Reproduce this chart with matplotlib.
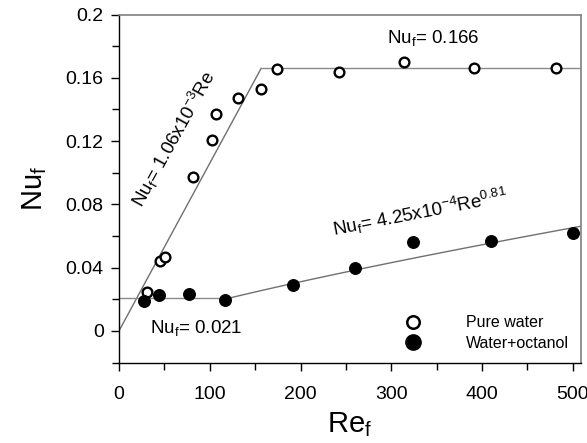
import numpy as np
import matplotlib
matplotlib.use("Agg")
import matplotlib.pyplot as plt
from matplotlib.ticker import MultipleLocator
from matplotlib.lines import Line2D

plt.rcParams['font.family'] = ['Liberation Sans', 'DejaVu Sans']
plt.rcParams['mathtext.default'] = 'regular'

# Measured film Nusselt numbers vs. film Reynolds number
re_water = [30.9, 45.2, 50.7, 81.6, 102.9, 106.9, 131.6, 156.2, 174.2, 242.9, 313.5, 391.0, 481.4]
nu_water = [0.0245, 0.0443, 0.0470, 0.0970, 0.1209, 0.1370, 0.1470, 0.1530, 0.1658, 0.1637, 0.1700, 0.1662, 0.1662]

re_octanol = [27.9, 44.1, 77.2, 117.2, 192.2, 260.5, 323.8, 410.1, 500.6]
nu_octanol = [0.0192, 0.0230, 0.0232, 0.0196, 0.0287, 0.0399, 0.0561, 0.0568, 0.0618]

# Correlation coefficients
water_slope = 1.06e-3
water_plateau = 0.166
oct_plateau = 0.021
oct_coef = 4.25e-4
oct_exp = 0.81

x_max = 509
y_min, y_max = -0.02, 0.2

fig = plt.figure(figsize=(5.87, 4.43), dpi=100)
ax = fig.add_axes([0.2027, 0.1817, 0.7871, 0.7853])

line_kw = dict(color='#707070', lw=1.0, zorder=1)

# Pure water: linear rise then plateau
re_break_w = water_plateau / water_slope
ax.plot([0, re_break_w], [0, water_slope * re_break_w], **line_kw)
ax.plot([re_break_w, x_max], [water_plateau, water_plateau], color='#8a8a8a', lw=1.0, zorder=1)

# Water + octanol: plateau then power law
re_break_o = (oct_plateau / oct_coef) ** (1 / oct_exp)
ax.plot([0, re_break_o], [oct_plateau, oct_plateau], color='#8a8a8a', lw=1.0, zorder=1)
re_pow = np.linspace(re_break_o, x_max, 100)
ax.plot(re_pow, oct_coef * re_pow ** oct_exp, **line_kw)

ax.plot(re_water, nu_water, 'o', ms=7, mfc='white', mec='black', mew=1.7, zorder=3, clip_on=False)
ax.plot(re_octanol, nu_octanol, 'o', ms=8.5, mfc='black', mec='black', mew=0.8, zorder=3, clip_on=False)

ax.set_xlim(0, x_max)
ax.set_ylim(y_min, y_max)

ax.xaxis.set_minor_locator(MultipleLocator(50))
ax.yaxis.set_minor_locator(MultipleLocator(0.02))
ax.set_yticks([0, 0.04, 0.08, 0.12, 0.16, 0.2])
ax.set_yticklabels(['0', '0.04', '0.08', '0.12', '0.16', '0.2'])
ax.set_xticks([0, 100, 200, 300, 400, 500])

ax.tick_params(which='major', direction='out', length=6, width=1, labelsize=14, pad=11)
ax.tick_params(which='minor', direction='out', length=5, width=1)
ax.tick_params(axis='y', which='major', pad=5)

for side in ('left', 'bottom'):
    ax.spines[side].set_color('black')
    ax.spines[side].set_linewidth(1.0)
for side in ('top', 'right'):
    ax.spines[side].set_color('#808080')
    ax.spines[side].set_linewidth(1.2)

ax.set_xlabel('Re$_f$', fontsize=21, labelpad=5)
ax.set_ylabel('Nu$_f$', fontsize=21, labelpad=12)

ax.text(346, 0.1854, 'Nu$_f$= 0.166', fontsize=13.5, ha='center', va='center')
ax.text(85, 0.0019, 'Nu$_f$= 0.021', fontsize=13.5, ha='center', va='center')
ax.text(60.6, 0.1215, 'Nu$_f$= 1.06x10$^{-3}$Re', fontsize=13.5, ha='center', va='center',
        rotation=61, rotation_mode='anchor')
ax.text(332, 0.0747, 'Nu$_f$= 4.25x10$^{-4}$Re$^{0.81}$', fontsize=13.5, ha='center', va='center',
        rotation=11, rotation_mode='anchor')

handles = [
    Line2D([], [], ls='none', marker='o', ms=9, mfc='white', mec='black', mew=1.8),
    Line2D([], [], ls='none', marker='o', ms=11, mfc='black', mec='black'),
]
ax.legend(handles, ['Pure water', 'Water+octanol'], loc='center left',
          bbox_to_anchor=(0.602, 0.084), frameon=False, fontsize=11.5,
          handlelength=2.0, handletextpad=2.3, labelspacing=0.35,
          borderpad=0, borderaxespad=0)

fig.savefig('out.png', dpi=100)
